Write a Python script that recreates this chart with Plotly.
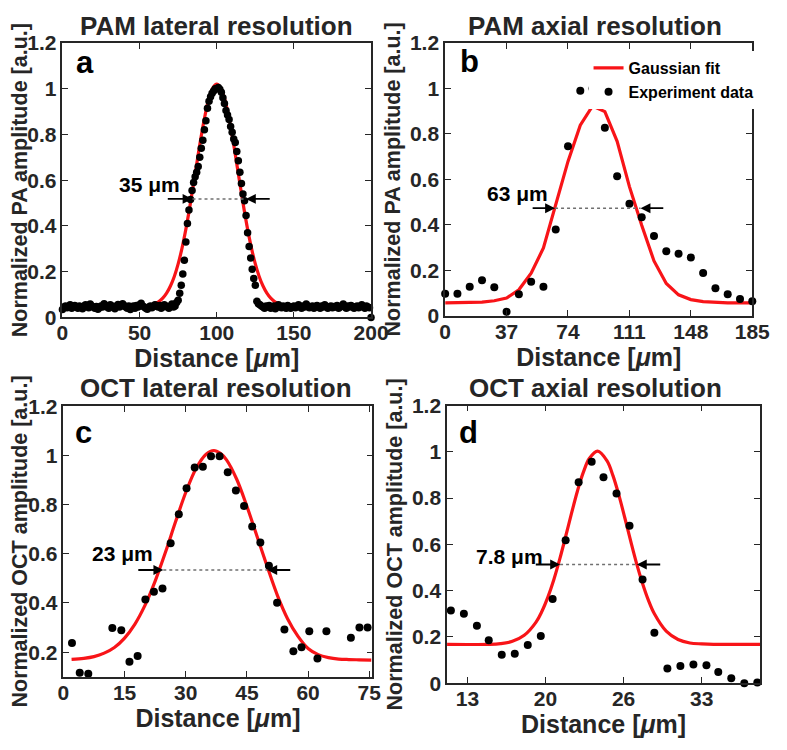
import plotly.graph_objects as go

# ---------------- Panel a: PAM lateral resolution ----------------
a_x = list(range(0, 201))
a_y = [0.035, 0.045, 0.050, 0.042, 0.048, 0.055, 0.040, 0.045, 0.052, 0.047,
       0.040, 0.050, 0.045, 0.038, 0.050, 0.055, 0.048, 0.042, 0.058, 0.050,
       0.045, 0.040, 0.048, 0.036, 0.042, 0.050, 0.045, 0.060, 0.052, 0.045,
       0.040, 0.055, 0.050, 0.045, 0.038, 0.050, 0.056, 0.045, 0.050, 0.060,
       0.052, 0.045, 0.040, 0.050, 0.035, 0.045, 0.050, 0.040, 0.052, 0.045,
       0.055, 0.062, 0.050, 0.045, 0.040, 0.036, 0.045, 0.050, 0.042, 0.048,
       0.055, 0.050, 0.045, 0.052, 0.040, 0.045, 0.055, 0.050, 0.045, 0.040,
       0.050, 0.058, 0.045, 0.050, 0.065,
       0.075, 0.105, 0.140, 0.190, 0.250, 0.330, 0.410, 0.470, 0.515, 0.555,
       0.590, 0.615, 0.635, 0.660, 0.700, 0.740, 0.775, 0.820, 0.860, 0.915,
       0.945, 0.965, 0.980, 0.990, 1.000, 1.000, 1.005, 0.998, 0.985, 0.960,
       0.935, 0.905, 0.885, 0.865, 0.835, 0.810, 0.780, 0.765, 0.725, 0.685,
       0.635, 0.585, 0.540, 0.510, 0.445, 0.370, 0.310, 0.260, 0.210, 0.170,
       0.140, 0.070, 0.060, 0.055, 0.050,
       0.045, 0.040, 0.050, 0.045, 0.052, 0.040, 0.045, 0.050, 0.038, 0.045,
       0.055, 0.048, 0.042, 0.050, 0.045, 0.040, 0.052, 0.047, 0.040, 0.045,
       0.050, 0.042, 0.048, 0.055, 0.045, 0.040, 0.050, 0.045, 0.058, 0.050,
       0.042, 0.045, 0.050, 0.040, 0.048, 0.052, 0.045, 0.040, 0.050, 0.045,
       0.055, 0.048, 0.040, 0.045, 0.050, 0.042, 0.048, 0.045, 0.052, 0.040,
       0.045, 0.050, 0.058, 0.045, 0.040, 0.050, 0.045, 0.052, 0.048, 0.040,
       0.045, 0.050, 0.042, 0.048, 0.055, 0.045, 0.040, 0.050, 0.045, 0.042,
       0.000]
a_fit_x = [0, 40, 45, 50, 55, 57.5, 60, 62.5, 65, 67.5, 70, 72.5, 75, 77.5, 80,
           82.5, 85, 87.5, 90, 92.5, 95, 97.5, 100, 102.5, 105, 107.5, 110, 112.5,
           115, 117.5, 120, 122.5, 125, 127.5, 130, 132.5, 135, 137.5, 140, 142.5,
           145, 150, 155, 160, 200]
a_fit_y = [0.045, 0.045, 0.045, 0.046, 0.050, 0.054, 0.060, 0.069, 0.084, 0.106,
           0.137, 0.179, 0.234, 0.303, 0.386, 0.481, 0.585, 0.692, 0.795, 0.886,
           0.958, 1.004, 1.020, 1.004, 0.958, 0.886, 0.795, 0.692, 0.585, 0.481,
           0.386, 0.303, 0.234, 0.179, 0.137, 0.106, 0.084, 0.069, 0.060, 0.054,
           0.050, 0.046, 0.045, 0.045, 0.045]

# ---------------- Panel b: PAM axial resolution ----------------
b_x = [0, 7.4, 14.8, 22.2, 29.6, 37, 44.4, 51.8, 59.2, 66.6, 74, 81.4, 88.8,
       96.2, 103.6, 111, 118.4, 125.8, 133.2, 140.6, 148, 155.4, 162.8, 170.2,
       177.6, 185]
b_y = [0.097, 0.097, 0.128, 0.156, 0.125, 0.017, 0.095, 0.149, 0.128, 0.379,
       0.746, 0.990, 1.000, 0.827, 0.614, 0.493, 0.433, 0.351, 0.284, 0.273,
       0.256, 0.188, 0.121, 0.095, 0.074, 0.064]
b_fit_y = [0.057, 0.057, 0.058, 0.060, 0.066, 0.078, 0.114, 0.187, 0.298, 0.483,
           0.679, 0.838, 0.923, 0.898, 0.767, 0.568, 0.398, 0.241, 0.142, 0.092,
           0.071, 0.062, 0.058, 0.057, 0.057, 0.057]
b_ticks = [0, 37, 74, 111, 148, 185]

# ---------------- Panel c: OCT lateral resolution ----------------
c_x = [2.1, 4.0, 6.1, 12.0, 14.2, 16.2, 18.2, 20.1, 22.2, 24.3, 26.3, 28.3, 30.2,
       32.2, 34.2, 36.2, 38.3, 40.3, 42.3, 44.3, 46.3, 48.3, 50.4, 52.4, 54.2,
       56.4, 58.4, 60.3, 62.3, 64.5, 70.5, 72.6, 74.6]
c_y = [0.237, 0.116, 0.112, 0.298, 0.289, 0.161, 0.184, 0.414, 0.446, 0.459,
       0.643, 0.761, 0.866, 0.951, 0.954, 0.997, 0.997, 0.931, 0.857, 0.794,
       0.711, 0.646, 0.551, 0.401, 0.292, 0.204, 0.220, 0.285, 0.174, 0.285,
       0.259, 0.300, 0.300]
c_fit_x = [2, 5, 7.5, 10, 12.5, 15, 17.5, 20, 22.5, 25, 27.5, 30, 32.5, 35, 36.9,
           38.5, 40, 42.5, 45, 47.5, 50, 52.5, 55, 57.5, 60, 62.5, 65, 67.5, 70,
           72.5, 75.5]
c_fit_y = [0.171, 0.175, 0.182, 0.196, 0.219, 0.257, 0.313, 0.390, 0.489, 0.605,
           0.730, 0.849, 0.946, 1.005, 1.020, 1.008, 0.982, 0.903, 0.793, 0.670,
           0.547, 0.430, 0.335, 0.265, 0.215, 0.190, 0.178, 0.172, 0.170, 0.169,
           0.168]
c_ticks = [0, 15, 30, 45, 60, 75]

# ---------------- Panel d: OCT axial resolution ----------------
d_x = [11.8, 12.9, 14.0, 15.0, 16.1, 17.2, 18.3, 19.4, 20.4, 21.5, 22.6, 23.7,
       24.7, 25.8, 26.9, 28.0, 29.0, 30.1, 31.2, 32.3, 33.4, 34.4, 35.5, 36.6, 37.7]
d_y = [0.314, 0.300, 0.248, 0.186, 0.123, 0.127, 0.165, 0.204, 0.364, 0.618,
       0.869, 0.957, 0.890, 0.820, 0.681, 0.448, 0.218, 0.064, 0.074, 0.081,
       0.078, 0.049, 0.022, 0.000, 0.003]
d_fit_x = [11.4, 15, 16, 17, 18, 19, 19.5, 20, 20.5, 21, 21.5, 22, 22.5, 23, 23.5,
           24.2, 25, 25.5, 26, 26.5, 27, 27.5, 28, 28.5, 29, 30, 31, 32, 33, 34, 38]
d_fit_y = [0.168, 0.168, 0.171, 0.181, 0.207, 0.264, 0.311, 0.372, 0.447, 0.536,
           0.634, 0.735, 0.831, 0.912, 0.971, 1.003, 0.961, 0.897, 0.813, 0.715,
           0.614, 0.517, 0.431, 0.358, 0.300, 0.225, 0.189, 0.174, 0.170, 0.168,
           0.168]
d_tickvals = [13.2, 19.8, 26.4, 33.0]
d_ticktext = ["13", "20", "26", "33"]

# ---------------- Panel texts and FWHM markers ----------------
titles = ["PAM lateral resolution", "PAM axial resolution",
          "OCT lateral resolution", "OCT axial resolution"]
letters = ["a", "b", "c", "d"]
y_titles = ["Normalized PA amplitude [a.u.]", "Normalized PA amplitude [a.u.]",
            "Normalized OCT amplitude [a.u.]", "Normalized OCT amplitude [a.u.]"]
fwhm_labels = ["35 \u03bcm", "63 \u03bcm", "23 \u03bcm", "7.8 \u03bcm"]
fwhm_label_x = [56.6, 43.8, 14.5, 16.75]
fwhm_label_y = [0.58, 0.538, 0.601, 0.548]
fwhm_level = [0.518, 0.473, 0.534, 0.513]
fwhm_left = [84.3, 66.2, 24.5, 21.03]
fwhm_right = [118.9, 117.7, 50.0, 27.52]
fwhm_tail_left = [67.3, 51.8, 18.0, 18.85]
fwhm_tail_right = [135.3, 132.3, 56.0, 29.62]

# ---------------- Layout geometry ----------------
# The page body keeps an 8 px margin, so the figure is 16 px smaller than the
# window and screen positions are shifted by 8 px.
OFF = 8
W, H = 787 - 2 * OFF, 750 - 2 * OFF
RED = "#f81418"
DARK = "#262626"
FONT = "Liberation Sans"


def px(sx):
    return (sx - OFF) / W


def py(sy):
    return 1 - (sy - OFF) / H


fig = go.Figure()

panels = [
    (a_fit_x, a_fit_y, a_x, a_y),
    (b_x, b_fit_y, b_x, b_y),
    (c_fit_x, c_fit_y, c_x, c_y),
    (d_fit_x, d_fit_y, d_x, d_y),
]
for i, (fx, fy, dx, dy) in enumerate(panels):
    sfx = "" if i == 0 else str(i + 1)
    fig.add_trace(go.Scatter(
        x=fx, y=fy, mode="lines",
        line=dict(color=RED, width=3.2, shape="linear" if i == 1 else "spline"),
        name="Gaussian fit", showlegend=(i == 1),
        xaxis="x" + sfx, yaxis="y" + sfx))
    fig.add_trace(go.Scatter(
        x=dx, y=dy, mode="markers",
        marker=dict(color="black", size=8 if i != 0 else 7.5),
        name="Experiment data", showlegend=(i == 1), cliponaxis=False,
        xaxis="x" + sfx, yaxis="y" + sfx))

# axes boxes in screen pixels: (left, right, top, bottom)
px_boxes = [(58, 376.5, 31.7, 315), (453, 770, 31.7, 313.3),
            (59, 378, 406.7, 686), (455, 778, 406, 692.7)]
x_ranges = [[0, 200], [0, 185], [0, 75.8], [11.48, 37.93]]
y_ranges = [[0, 1.2], [0, 1.2], [0.1, 1.2], [0, 1.2]]

axis_common = dict(
    showline=True, linecolor=DARK, linewidth=1.6, mirror="ticks",
    ticks="inside", ticklen=6, tickwidth=1.4, tickcolor=DARK,
    showgrid=False, zeroline=False,
    tickfont=dict(family=FONT, size=21, color=DARK, weight="bold"),
)

layout = dict(width=W, height=H, margin=dict(l=0, r=0, t=0, b=0),
              paper_bgcolor="white", plot_bgcolor="white",
              font=dict(family=FONT, color="black"))

for i, (l, r, t, b) in enumerate(px_boxes):
    sfx = "" if i == 0 else str(i + 1)
    xa = dict(axis_common, domain=[px(l), px(r)], range=x_ranges[i],
              anchor="y" + sfx, ticklabelstandoff=-4,
              title=dict(text="Distance [<i>\u03bc</i>m]", standoff=0,
                         font=dict(family=FONT, size=25, color=DARK, weight="bold")))
    ya = dict(axis_common, domain=[py(b), py(t)], range=y_ranges[i],
              anchor="x" + sfx, tickvals=[0, 0.2, 0.4, 0.6, 0.8, 1, 1.2],
              ticktext=["0", "0.2", "0.4", "0.6", "0.8", "1", "1.2"],
              title=dict(text=y_titles[i], standoff=3,
                         font=dict(family=FONT, size=21.5, color=DARK, weight="bold")))
    if i == 0:
        xa["tickvals"] = [0, 50, 100, 150, 200]
    elif i == 1:
        xa["tickvals"] = b_ticks
    elif i == 2:
        xa["tickvals"] = c_ticks
    else:
        xa["tickvals"] = d_tickvals
        xa["ticktext"] = d_ticktext
    layout["xaxis" + sfx] = xa
    layout["yaxis" + sfx] = ya

fig.update_layout(**layout)

annotations = []
shapes = []
title_centers = [(217, 14), (608, 14), (217, 388), (608, 388)]
letter_centers = [(81, 52), (478, 51), (80, 434), (477, 434)]
for i in range(4):
    sfx = "" if i == 0 else str(i + 1)
    tx, ty = title_centers[i]
    annotations.append(dict(text=titles[i], x=px(tx), y=py(ty), xref="paper", yref="paper",
                            xanchor="center", yanchor="middle", showarrow=False,
                            font=dict(family=FONT, size=26, color=DARK, weight="bold")))
    lx, ly = letter_centers[i]
    annotations.append(dict(text=letters[i], x=px(lx), y=py(ly), xref="paper", yref="paper",
                            xanchor="center", yanchor="middle", showarrow=False,
                            font=dict(family=FONT, size=31, color="black", weight="bold")))
    annotations.append(dict(text=fwhm_labels[i], x=fwhm_label_x[i], y=fwhm_label_y[i],
                            xref="x" + sfx, yref="y" + sfx, showarrow=False,
                            xanchor="center", yanchor="middle",
                            font=dict(family=FONT, size=21, color="black", weight="bold")))
    for head, tail in ((fwhm_left[i], fwhm_tail_left[i]), (fwhm_right[i], fwhm_tail_right[i])):
        annotations.append(dict(x=head, y=fwhm_level[i], ax=tail, ay=fwhm_level[i],
                                xref="x" + sfx, yref="y" + sfx,
                                axref="x" + sfx, ayref="y" + sfx,
                                text="", showarrow=True, arrowhead=2, arrowsize=1.1,
                                arrowwidth=1.8, arrowcolor="black", standoff=0))
    shapes.append(dict(type="line", x0=fwhm_left[i], x1=fwhm_right[i],
                       y0=fwhm_level[i], y1=fwhm_level[i],
                       xref="x" + sfx, yref="y" + sfx,
                       line=dict(color="#707070", width=1.5, dash="dot")))

fig.update_layout(
    annotations=annotations, shapes=shapes,
    legend=dict(x=px(601), y=py(40), xanchor="left", yanchor="top",
                bgcolor="white", borderwidth=0, tracegroupgap=0,
                itemwidth=30, font=dict(family=FONT, size=16, color="black", weight="bold")),
)

fig.write_html("out.html")
